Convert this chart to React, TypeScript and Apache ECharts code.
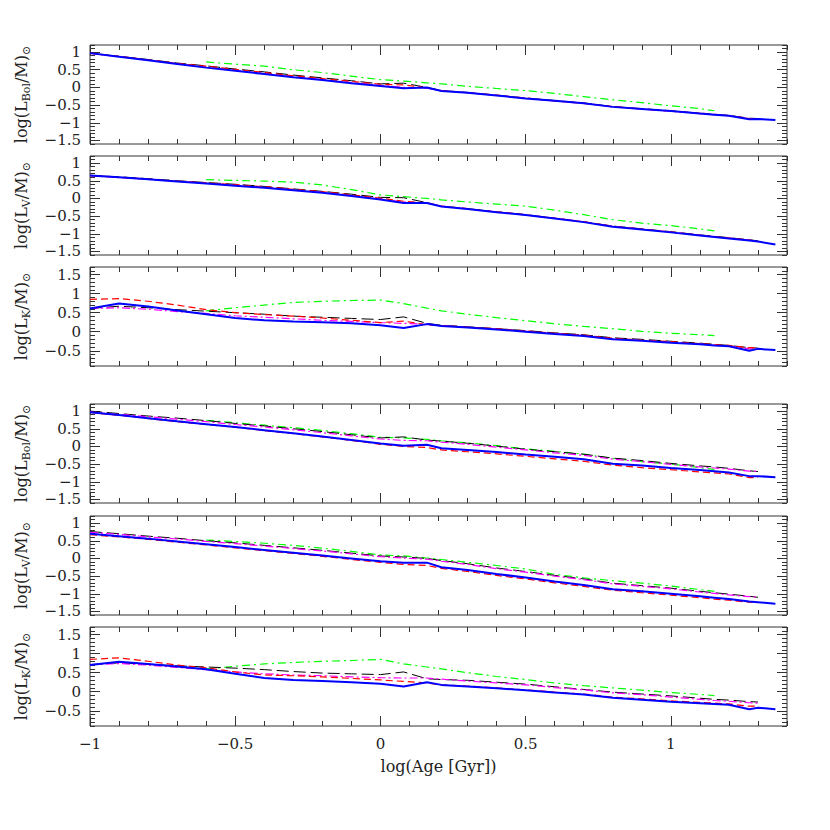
import React, { useEffect, useRef } from "react";
import * as echarts from "echarts";

// log(Age [Gyr]) sample grid shared by all curves
const AGE = [-1, -0.9, -0.8, -0.7, -0.6, -0.5, -0.4, -0.3, -0.2, -0.1, 0, 0.08, 0.16, 0.21, 0.3, 0.4, 0.5, 0.6, 0.7, 0.8, 0.9, 1.0, 1.1, 1.15, 1.2, 1.27, 1.3, 1.36];

const X_TICKS = [-1, -0.5, 0, 0.5, 1];
const Y_TICKS_LV = [-1.5, -1, -0.5, 0, 0.5, 1];
const Y_TICKS_K = [-0.5, 0, 0.5, 1, 1.5];

const N = null;
// Panel 1: log(L_Bol/M) (upper group)
const P1_BLUE = [0.97, 0.87, 0.77, 0.66, 0.56, 0.47, 0.38, 0.29, 0.21, 0.12, 0.04, -0.02, 0.0, -0.1, -0.15, -0.23, -0.31, -0.38, -0.45, -0.55, -0.61, -0.67, -0.74, -0.77, -0.8, -0.9, -0.89, -0.92];
const P1_RED = [0.97, 0.88, 0.78, 0.68, 0.6, 0.51, 0.42, 0.33, 0.25, 0.17, 0.09, 0.07, -0.01, -0.09, -0.15, -0.22, -0.3, -0.38, -0.45, -0.54, -0.61, -0.67, -0.73, -0.76, -0.8, -0.88, -0.89, N];
const P1_BLACK = [0.97, 0.88, 0.79, 0.69, 0.61, 0.52, 0.44, 0.35, 0.27, 0.19, 0.1, 0.12, 0.0, -0.09, -0.14, -0.22, -0.3, -0.37, -0.44, -0.54, -0.6, -0.66, -0.73, -0.76, -0.79, -0.87, -0.88, N];
const P1_MAGENTA = [0.96, 0.87, 0.77, 0.67, 0.57, 0.48, 0.39, 0.3, 0.22, 0.14, 0.06, 0.0, -0.02, -0.1, -0.15, -0.23, -0.31, -0.38, -0.45, -0.55, -0.61, -0.67, -0.74, -0.77, -0.8, -0.89, -0.89, N];
const P1_GREEN = [N, N, N, N, 0.72, 0.66, 0.6, 0.5, 0.42, 0.32, 0.22, 0.18, 0.13, 0.1, 0.03, -0.03, -0.09, -0.17, -0.26, -0.35, -0.43, -0.52, -0.6, -0.66, N, N, N, N];

// Panel 2: log(L_V/M) (upper group)
const P2_BLUE = [0.65, 0.6, 0.54, 0.48, 0.42, 0.36, 0.3, 0.23, 0.16, 0.07, -0.03, -0.13, -0.13, -0.23, -0.3, -0.39, -0.47, -0.57, -0.67, -0.8, -0.88, -0.96, -1.05, -1.09, -1.13, -1.19, -1.22, -1.3];
const P2_RED = [0.65, 0.6, 0.55, 0.49, 0.44, 0.39, 0.33, 0.26, 0.19, 0.1, 0.01, -0.08, -0.13, -0.22, -0.29, -0.38, -0.46, -0.56, -0.66, -0.79, -0.87, -0.95, -1.04, -1.08, -1.12, -1.18, -1.21, N];
const P2_BLACK = [0.65, 0.61, 0.56, 0.5, 0.45, 0.4, 0.34, 0.27, 0.2, 0.12, 0.03, 0.02, -0.12, -0.22, -0.29, -0.38, -0.46, -0.56, -0.66, -0.78, -0.86, -0.94, -1.03, -1.07, -1.11, -1.17, -1.2, N];
const P2_MAGENTA = [0.64, 0.59, 0.54, 0.48, 0.43, 0.37, 0.31, 0.24, 0.17, 0.08, -0.02, -0.1, -0.13, -0.22, -0.3, -0.38, -0.47, -0.56, -0.66, -0.79, -0.87, -0.95, -1.04, -1.08, -1.12, -1.18, -1.21, N];
const P2_GREEN = [N, N, N, N, 0.53, 0.51, 0.49, 0.46, 0.38, 0.25, 0.1, 0.05, 0.0, -0.04, -0.1, -0.16, -0.22, -0.33, -0.46, -0.6, -0.7, -0.77, -0.86, -0.92, N, N, N, N];

// Panel 3: log(L_K/M) (upper group)
const P3_BLUE = [0.61, 0.74, 0.66, 0.56, 0.46, 0.36, 0.3, 0.27, 0.25, 0.22, 0.17, 0.1, 0.2, 0.15, 0.11, 0.06, 0.0, -0.06, -0.11, -0.2, -0.24, -0.29, -0.33, -0.36, -0.38, -0.5, -0.45, -0.48];
const P3_RED = [0.85, 0.87, 0.8, 0.7, 0.58, 0.5, 0.45, 0.41, 0.36, 0.3, 0.24, 0.28, 0.18, 0.16, 0.12, 0.08, 0.02, -0.04, -0.09, -0.17, -0.22, -0.26, -0.31, -0.34, -0.36, -0.42, -0.42, N];
const P3_BLACK = [0.61, 0.67, 0.63, 0.58, 0.54, 0.5, 0.46, 0.41, 0.38, 0.35, 0.32, 0.39, 0.22, 0.17, 0.13, 0.08, 0.03, -0.03, -0.08, -0.16, -0.2, -0.25, -0.3, -0.33, -0.36, -0.42, -0.43, N];
const P3_MAGENTA = [0.61, 0.63, 0.59, 0.53, 0.48, 0.42, 0.38, 0.34, 0.3, 0.27, 0.24, 0.22, 0.2, 0.16, 0.12, 0.07, 0.01, -0.05, -0.1, -0.19, -0.23, -0.28, -0.32, -0.35, -0.37, -0.45, -0.44, N];
const P3_GREEN = [N, N, N, N, 0.55, 0.63, 0.7, 0.77, 0.8, 0.82, 0.83, 0.74, 0.62, 0.55, 0.46, 0.37, 0.29, 0.21, 0.14, 0.08, 0.01, -0.04, -0.08, -0.1, N, N, N, N];

// Panel 4: log(L_Bol/M) (lower group)
const P4_BLUE = [0.97, 0.89, 0.8, 0.71, 0.63, 0.55, 0.46, 0.37, 0.28, 0.18, 0.08, 0.02, 0.05, -0.05, -0.1, -0.16, -0.23, -0.29, -0.36, -0.49, -0.54, -0.61, -0.67, -0.7, -0.74, -0.84, -0.84, -0.87];
const P4_RED = [0.96, 0.88, 0.79, 0.7, 0.62, 0.54, 0.45, 0.36, 0.27, 0.17, 0.06, 0.0, -0.03, -0.1, -0.15, -0.21, -0.28, -0.35, -0.42, -0.53, -0.6, -0.66, -0.72, -0.75, -0.78, -0.88, -0.88, N];
const P4_BLACK = [1.0, 0.93, 0.86, 0.8, 0.73, 0.65, 0.58, 0.5, 0.42, 0.33, 0.24, 0.27, 0.18, 0.15, 0.09, 0.01, -0.08, -0.15, -0.22, -0.33, -0.4, -0.48, -0.55, -0.58, -0.62, -0.69, -0.71, N];
const P4_MAGENTA = [0.97, 0.91, 0.84, 0.77, 0.7, 0.62, 0.55, 0.47, 0.39, 0.3, 0.21, 0.17, 0.16, 0.12, 0.06, -0.02, -0.1, -0.18, -0.25, -0.36, -0.43, -0.51, -0.58, -0.61, -0.64, -0.7, -0.71, N];
const P4_GREEN = [N, N, N, N, 0.74, 0.67, 0.6, 0.53, 0.45, 0.36, 0.26, 0.24, 0.2, 0.16, 0.1, 0.02, -0.07, -0.14, -0.22, -0.34, -0.43, -0.5, -0.6, -0.65, N, N, N, N];

// Panel 5: log(L_V/M) (lower group)
const P5_BLUE = [0.7, 0.63, 0.56, 0.48, 0.4, 0.32, 0.24, 0.16, 0.08, 0.0, -0.08, -0.12, -0.12, -0.25, -0.33, -0.44, -0.54, -0.65, -0.75, -0.87, -0.93, -1.0, -1.07, -1.11, -1.15, -1.22, -1.24, -1.28];
const P5_RED = [0.67, 0.61, 0.54, 0.46, 0.38, 0.3, 0.22, 0.14, 0.06, -0.03, -0.11, -0.17, -0.2, -0.28, -0.37, -0.48, -0.58, -0.69, -0.79, -0.9, -0.97, -1.04, -1.11, -1.15, -1.18, -1.24, -1.25, N];
const P5_BLACK = [0.76, 0.7, 0.63, 0.57, 0.5, 0.44, 0.37, 0.3, 0.23, 0.15, 0.07, 0.04, 0.0, -0.06, -0.15, -0.27, -0.37, -0.48, -0.58, -0.7, -0.77, -0.84, -0.93, -0.97, -1.01, -1.07, -1.1, N];
const P5_MAGENTA = [0.74, 0.68, 0.61, 0.55, 0.48, 0.42, 0.35, 0.28, 0.21, 0.13, 0.05, 0.01, -0.02, -0.08, -0.17, -0.29, -0.39, -0.5, -0.6, -0.72, -0.79, -0.86, -0.95, -0.99, -1.03, -1.08, -1.1, N];
const P5_GREEN = [N, N, N, N, 0.52, 0.48, 0.43, 0.37, 0.29, 0.2, 0.1, 0.07, 0.01, -0.03, -0.11, -0.2, -0.3, -0.45, -0.55, -0.63, -0.7, -0.78, -0.88, -0.93, N, N, N, N];

// Panel 6: log(L_K/M) (lower group)
const P6_BLUE = [0.7, 0.79, 0.73, 0.66, 0.59, 0.47, 0.36, 0.31, 0.28, 0.25, 0.21, 0.14, 0.25, 0.18, 0.14, 0.09, 0.04, -0.02, -0.07, -0.16, -0.21, -0.26, -0.3, -0.32, -0.34, -0.46, -0.42, -0.46];
const P6_RED = [0.85, 0.89, 0.8, 0.7, 0.63, 0.52, 0.44, 0.42, 0.39, 0.35, 0.31, 0.27, 0.23, 0.18, 0.15, 0.1, 0.05, -0.01, -0.06, -0.14, -0.19, -0.24, -0.28, -0.3, -0.32, -0.38, -0.38, N];
const P6_BLACK = [0.71, 0.76, 0.72, 0.68, 0.65, 0.62, 0.58, 0.53, 0.49, 0.47, 0.45, 0.52, 0.34, 0.32, 0.3, 0.25, 0.2, 0.13, 0.06, -0.01, -0.06, -0.11, -0.17, -0.2, -0.22, -0.26, -0.27, N];
const P6_MAGENTA = [0.71, 0.74, 0.7, 0.64, 0.58, 0.52, 0.47, 0.44, 0.42, 0.39, 0.37, 0.36, 0.36, 0.33, 0.28, 0.23, 0.18, 0.11, 0.05, -0.03, -0.08, -0.14, -0.2, -0.23, -0.25, -0.29, -0.3, N];
const P6_GREEN = [N, N, N, N, 0.6, 0.67, 0.73, 0.77, 0.8, 0.82, 0.85, 0.73, 0.65, 0.6, 0.5, 0.4, 0.32, 0.23, 0.16, 0.1, 0.04, -0.02, -0.07, -0.1, N, N, N, N];

const PANELS = [
  { band: "Bol", min: -1.6, max: 1.2, ticks: Y_TICKS_LV, curves: [P1_GREEN, P1_BLACK, P1_MAGENTA, P1_RED, P1_BLUE] },
  { band: "V", min: -1.6, max: 1.2, ticks: Y_TICKS_LV, curves: [P2_GREEN, P2_BLACK, P2_MAGENTA, P2_RED, P2_BLUE] },
  { band: "K", min: -0.9, max: 1.7, ticks: Y_TICKS_K, curves: [P3_GREEN, P3_BLACK, P3_MAGENTA, P3_RED, P3_BLUE] },
  { band: "Bol", min: -1.6, max: 1.2, ticks: Y_TICKS_LV, curves: [P4_GREEN, P4_BLACK, P4_MAGENTA, P4_RED, P4_BLUE] },
  { band: "V", min: -1.6, max: 1.2, ticks: Y_TICKS_LV, curves: [P5_GREEN, P5_BLACK, P5_MAGENTA, P5_RED, P5_BLUE] },
  { band: "K", min: -0.9, max: 1.7, ticks: Y_TICKS_K, curves: [P6_GREEN, P6_BLACK, P6_MAGENTA, P6_RED, P6_BLUE] },
];

const CURVE_STYLES = [
  { color: "#00ff00", width: 1.2, type: [8, 4, 2, 4] },
  { color: "#000000", width: 1, type: [12, 5] },
  { color: "#ff00ff", width: 1.2, type: [8, 3, 2, 3] },
  { color: "#ff0000", width: 1.2, type: [7, 4] },
  { color: "#0000ff", width: 2, type: "solid" },
];

const GRID_TOPS = [45, 156, 267, 404, 516, 627];
const GRID_H = 99;
const FONT = "DejaVu Serif";
const TXT = "#222";
const TICK_FS = 15;

const fmt = (v: number) => String(v).replace("-", "\u2212");

function minorTicks(min: number, max: number) {
  const out: number[] = [];
  for (let k = Math.ceil(min * 10 - 1e-9); k <= Math.floor(max * 10 + 1e-9); k++) out.push(k / 10);
  return out;
}

export default function App() {
  const ref = useRef<HTMLDivElement>(null);
  useEffect(() => {
    if (!ref.current) return;
    const chart = echarts.init(ref.current, null, { renderer: "svg" });
    const grid: any[] = [];
    const xAxis: any[] = [];
    const yAxis: any[] = [];
    const series: any[] = [];
    const xMinor = minorTicks(-1, 1.4);
    PANELS.forEach((p, g) => {
      grid.push({ left: 90, width: 697, top: GRID_TOPS[g], height: GRID_H, show: true, borderColor: "#333", borderWidth: 1 });
      const last = g === PANELS.length - 1;
      ["bottom", "top"].forEach((pos) => {
        [false, true].forEach((major) => {
          const primary = pos === "bottom" && !major;
          xAxis.push({
            type: "value", gridIndex: g, position: pos, min: -1, max: 1.4,
            axisLine: { show: false, onZero: false },
            splitLine: { show: false },
            axisTick: { show: true, inside: true, length: major ? 10 : 5, customValues: major ? X_TICKS : xMinor, lineStyle: { color: "#333", width: 1 } },
            axisLabel: { show: last && primary, customValues: X_TICKS, formatter: fmt, margin: 10, fontFamily: FONT, fontSize: TICK_FS, lineHeight: 15, color: TXT },
            name: last && primary ? "log(Age [Gyr])" : "",
            nameLocation: "middle", nameGap: 32,
            nameTextStyle: { fontFamily: FONT, fontSize: 16, color: TXT },
          });
        });
      });
      const yMinor = minorTicks(p.min, p.max);
      ["left", "right"].forEach((pos) => {
        [false, true].forEach((major) => {
          const primary = pos === "left" && !major;
          yAxis.push({
            type: "value", gridIndex: g, position: pos, min: p.min, max: p.max,
            axisLine: { show: false, onZero: false },
            splitLine: { show: false },
            axisTick: { show: true, inside: true, length: major ? 10 : 5, customValues: major ? p.ticks : yMinor, lineStyle: { color: "#333", width: 1 } },
            axisLabel: { show: primary, customValues: p.ticks, formatter: fmt, margin: 9, fontFamily: FONT, fontSize: TICK_FS, lineHeight: 15, color: TXT },
            name: primary ? `{m|log(L}{s|${p.band}}{m|/M)}{s|\u2299}` : "",
            nameLocation: "middle", nameGap: 58, nameRotate: 90,
            nameTextStyle: {
              fontFamily: FONT, fontSize: 16, color: TXT,
              rich: {
                m: { fontFamily: FONT, fontSize: 16, color: TXT, lineHeight: 22 },
                s: { fontFamily: FONT, fontSize: 11, color: TXT, lineHeight: 11, verticalAlign: "bottom" },
              },
            },
          });
        });
      });
      p.curves.forEach((vals, c) => {
        const st = CURVE_STYLES[c];
        const data: number[][] = [];
        vals.forEach((v, i) => { if (v !== null) data.push([AGE[i], v as number]); });
        series.push({
          type: "line", xAxisIndex: g * 4, yAxisIndex: g * 4, data,
          showSymbol: false, symbol: "none", silent: true,
          lineStyle: { color: st.color, width: st.width, type: st.type },
          z: 2 + c,
        });
      });
    });
    chart.setOption({ animation: false, backgroundColor: "#fff", grid, xAxis, yAxis, series });
    return () => chart.dispose();
  }, []);
  return <div ref={ref} style={{ position: "fixed", left: 0, top: 0, width: 830, height: 830, background: "#fff" }} />;
}
